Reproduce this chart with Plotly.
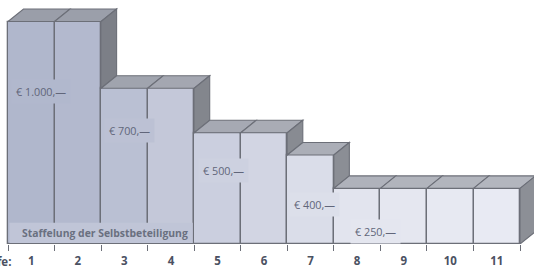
import plotly.graph_objects as go

# ---------------- data ----------------
stufen = [1, 2, 3, 4, 5, 6, 7, 8, 9, 10, 11]
stufe_labels = ["1", "2", "3", "4", "5", "6", "7", "8", "9", "10", "11"]
selbstbeteiligung = [1000, 1000, 700, 700, 500, 500, 400, 250, 250, 250, 250]
value_labels = ["€ 1.000,—", "€ 700,—", "€ 500,—", "€ 400,—", "€ 250,—"]
value_label_amounts = [1000, 700, 500, 400, 250]
axis_title = "Stufe:"
chart_title = "Staffelung der Selbstbeteiligung"

# ---------------- layout constants ----------------
W, H = 534, 266
MB = 22
PLOT_H = H - MB
PX_PER_COL = 46.55
FIRST_EDGE_PX = 8
PX_PER_EURO = 0.2225
DEPTH_PX_X, DEPTH_PX_Y = 15.5, 12.5

x0 = 0.5 - FIRST_EDGE_PX / PX_PER_COL
x1 = x0 + W / PX_PER_COL
y1 = PLOT_H / PX_PER_EURO
ddx = DEPTH_PX_X / PX_PER_COL
ddy = DEPTH_PX_Y / PX_PER_EURO

front_colors = ["#b0b7cc", "#b3b9ce", "#bac0d3", "#c4c8d9", "#cbcfdf", "#d2d5e3",
                "#dadde9", "#e2e4ee", "#e5e7f0", "#e7e9f2", "#e8eaf3"]
top_colors = ["#9a9ea9", "#9b9faa", "#a0a4ae", "#a4a7b1", "#a6a9b3", "#a9acb5",
              "#abaeb7", "#afb2bb", "#b1b4bc", "#b2b5bd", "#b3b6be"]
side_colors = ["#7b7e86", "#7c7f87", "#818489", "#83868d", "#86898f", "#888b92",
               "#8b8e95", "#8c8f96", "#8c8f96", "#8c8f96", "#8c8f96"]
EDGE = "#6c6f78"
TXT = "#61667a"

fig = go.Figure()

fig.add_trace(go.Bar(
    x=stufen, y=selbstbeteiligung, width=1,
    marker=dict(color=front_colors, line=dict(color=EDGE, width=1.3)),
    hoverinfo="skip", showlegend=False,
))

shapes = []
for i, (s, v) in enumerate(zip(stufen, selbstbeteiligung)):
    l, r = s - 0.5, s + 0.5
    # top face
    shapes.append(dict(
        type="path", xref="x", yref="y",
        path=f"M {l},{v} L {r},{v} L {r+ddx},{v+ddy} L {l+ddx},{v+ddy} Z",
        fillcolor=top_colors[i], line=dict(color=EDGE, width=1.1), layer="above"))
    nxt = selbstbeteiligung[i + 1] if i + 1 < len(selbstbeteiligung) else 0
    if nxt < v:
        shapes.append(dict(
            type="path", xref="x", yref="y",
            path=f"M {r},{v} L {r+ddx},{v+ddy} L {r+ddx},{nxt+ddy} L {r},{nxt} Z",
            fillcolor=side_colors[i], line=dict(color=EDGE, width=1.1), layer="above"))

# label band behind the chart title (columns 1-4, bottom strip)
shapes.append(dict(
    type="rect", xref="x", yref="y", x0=0.53, x1=4.47, y0=4, y1=95,
    fillcolor="#c0c5d7", line=dict(width=0), layer="above"))

# value label placement (x in column units, y in euro units)
label_pos = [(1.21, 685), (3.10, 509), (5.14, 329), (7.09, 176), (8.40, 54)]
label_bg = ["#b1b8cd", "#bcc1d4", "#cdd1e0", "#dcdfea", "#e4e6ef"]

annotations = []
for txt, amt, (lx, ly), bg in zip(value_labels, value_label_amounts, label_pos, label_bg):
    annotations.append(dict(
        x=lx, y=ly, xref="x", yref="y", text=txt, showarrow=False,
        font=dict(family="Open Sans", size=10.8, color=TXT),
        bgcolor=bg, borderpad=4, xanchor="center", yanchor="middle"))

annotations.append(dict(
    x=2.584, y=49, xref="x", yref="y", text=f"<b>{chart_title}</b>", showarrow=False,
    font=dict(family="Open Sans", size=10.4, color="#6a7080"),
    xanchor="center", yanchor="middle"))

annotations.append(dict(
    x=13 / W, y=-(261 - PLOT_H) / PLOT_H, xref="paper", yref="paper",
    text=f"<b>{axis_title}</b>", showarrow=False, xanchor="right", yanchor="middle",
    font=dict(family="Open Sans", size=11.5, color="#4b5162")))

fig.update_layout(
    width=W, height=H,
    margin=dict(l=0, r=0, t=0, b=MB, pad=0, autoexpand=False),
    paper_bgcolor="white", plot_bgcolor="white",
    shapes=shapes, annotations=annotations, bargap=0,
    xaxis=dict(
        range=[x0, x1], showgrid=False, zeroline=False, showline=False, automargin=False,
        tickmode="array", tickvals=stufen, ticktext=[f"<b>{t}</b>" for t in stufe_labels],
        ticks="", ticklen=0, ticklabelstandoff=8,
        tickfont=dict(family="Open Sans", size=11.5, color="#4b5162"),
        minor=dict(tickmode="array", tickvals=[s - 0.5 for s in stufen] + [stufen[-1] + 0.5],
                   ticks="outside", ticklen=6, tickcolor=EDGE, tickwidth=1.2, showgrid=False),
        fixedrange=True,
    ),
    yaxis=dict(range=[0, y1], visible=False, fixedrange=True, automargin=False),
)

fig.write_html("out.html", config={"displayModeBar": False},
               post_script="document.body.style.margin='0';document.body.style.overflow='hidden';")
